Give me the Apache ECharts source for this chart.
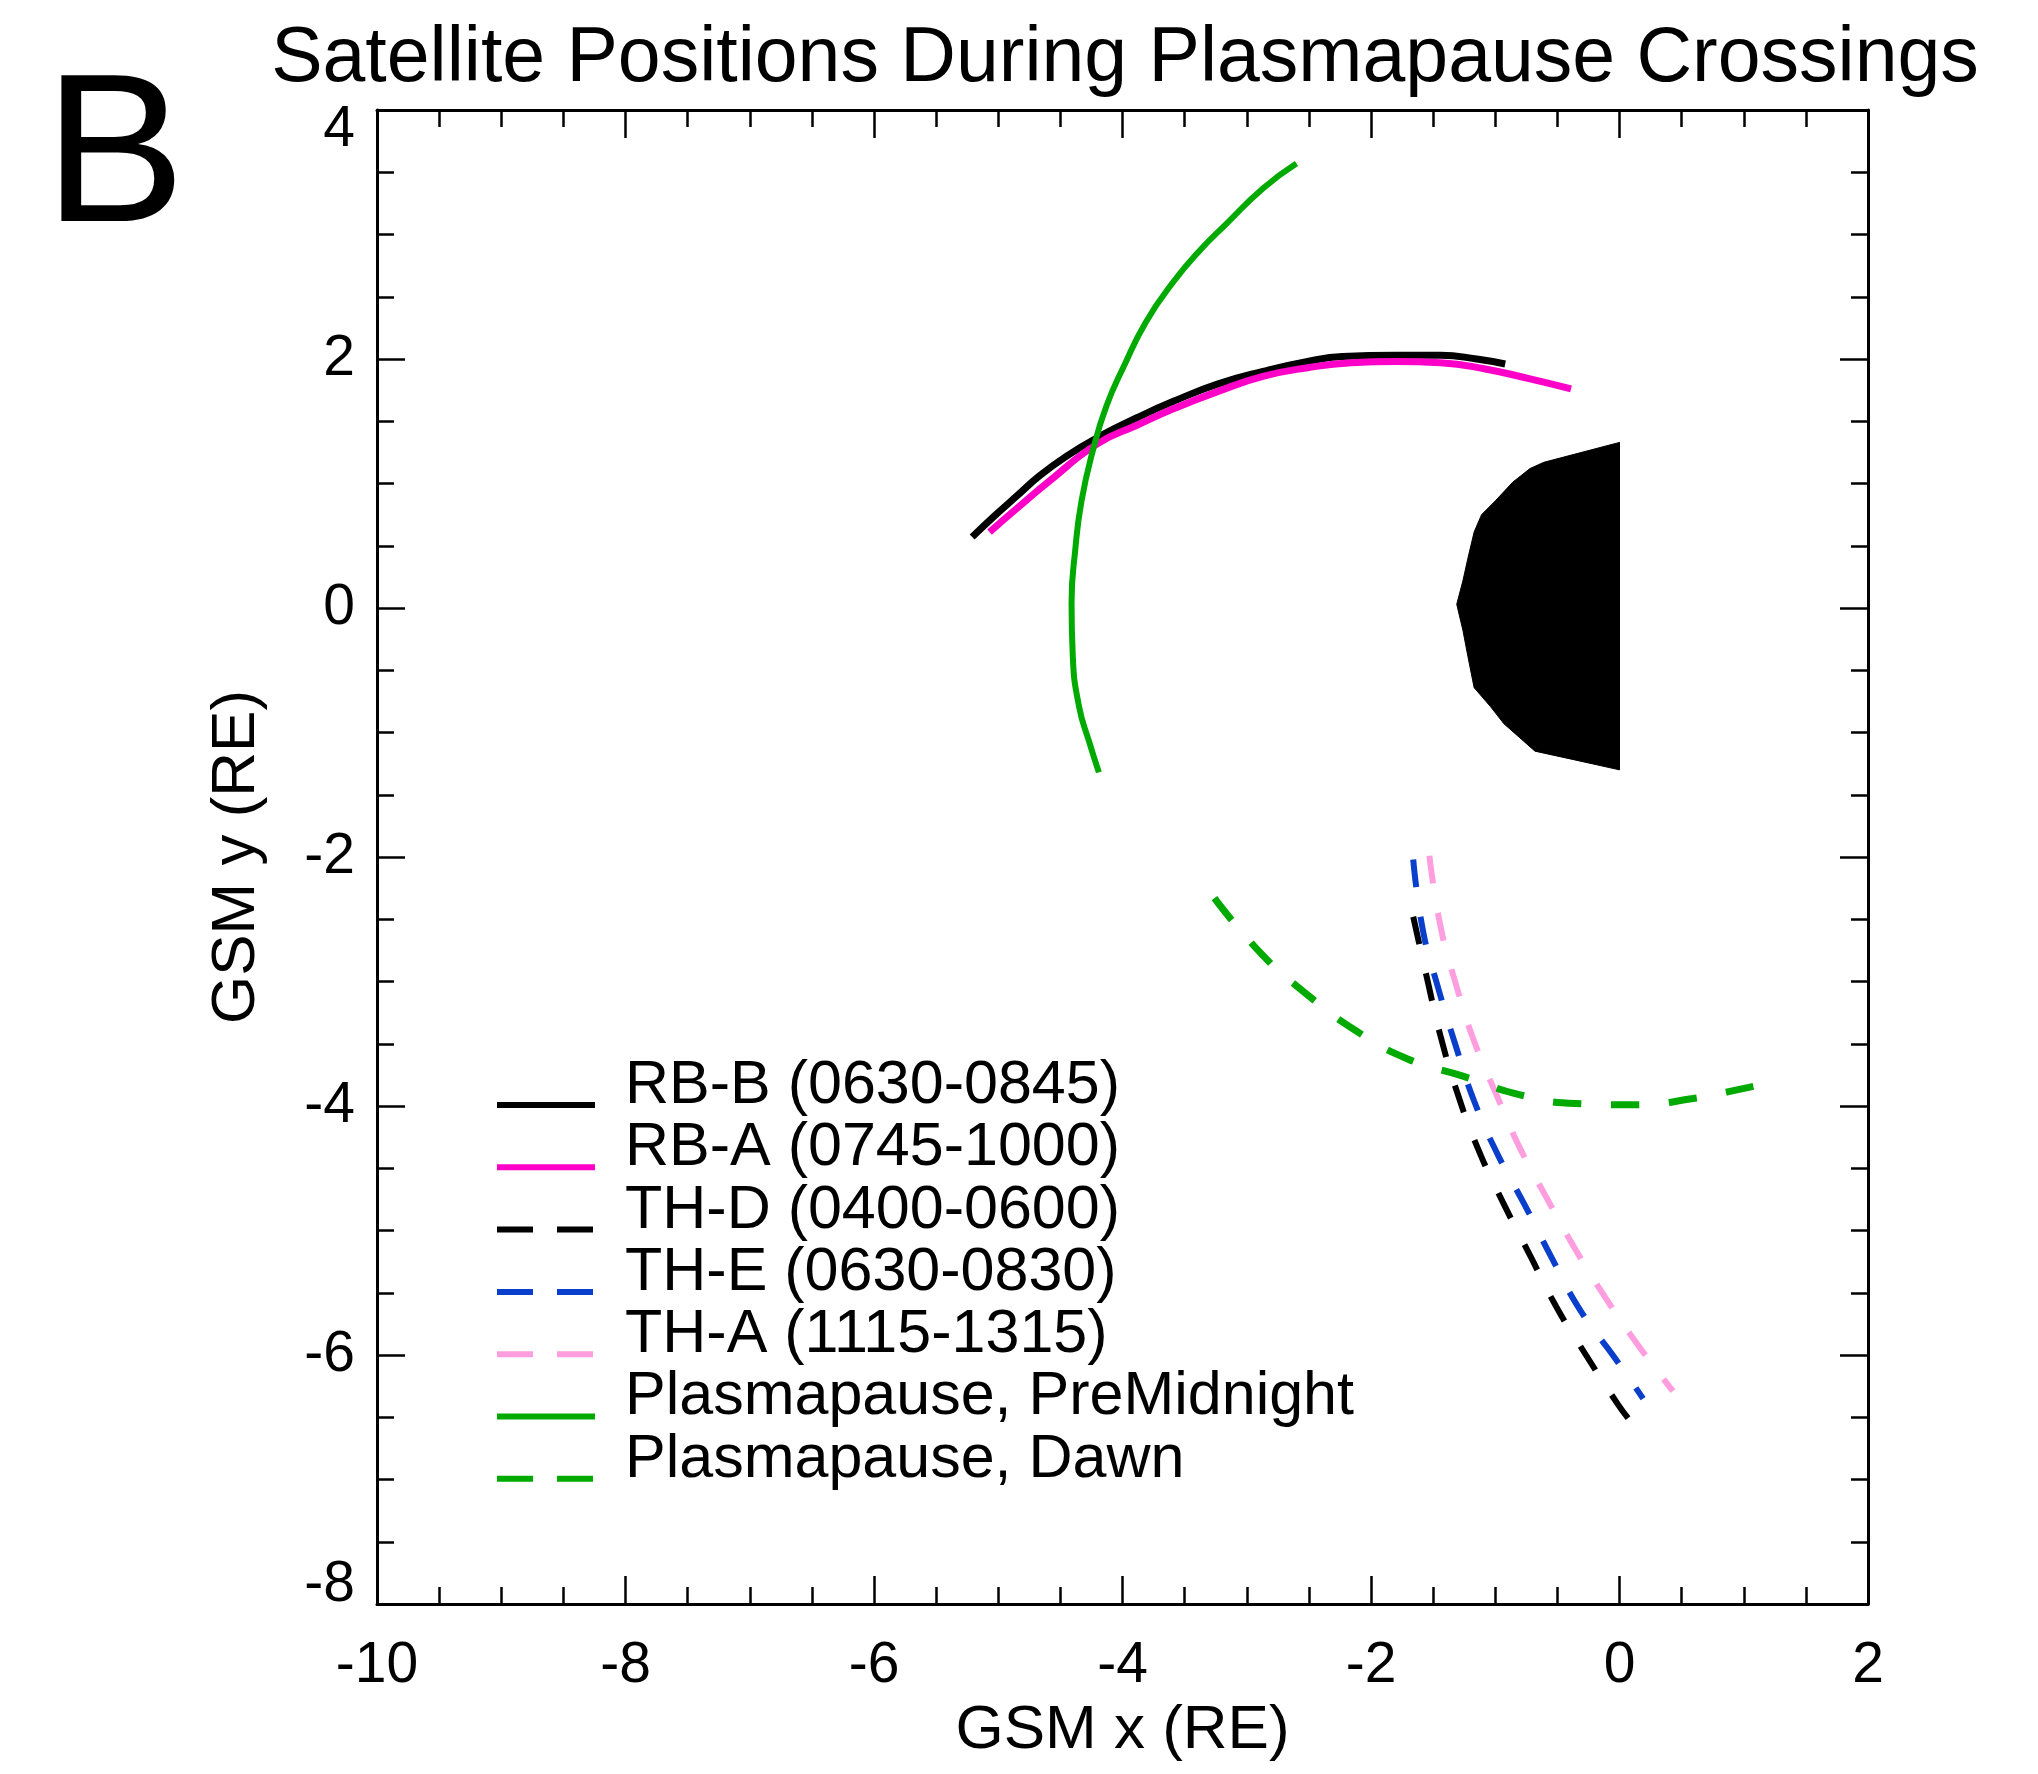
<!DOCTYPE html>
<html>
<head>
<meta charset="utf-8">
<title>Satellite Positions During Plasmapause Crossings</title>
<script src="https://cdn.jsdelivr.net/npm/echarts@6/dist/echarts.min.js"></script>
<style>
  html, body { margin: 0; padding: 0; background: #fff; }
  #chart { width: 2038px; height: 1774px; }
</style>
</head>
<body>
<div id="chart"></div>
<script>
// Axis ticks (GSM, Earth radii)
const xTickValues = [-10, -8, -6, -4, -2, 0, 2];
const yTickValues = [-8, -6, -4, -2, 0, 2, 4];

// Earth (dayside half shown as filled shape)
const earthX = [0.00, -0.61, -0.72, -0.86, -1.00, -1.11, -1.17, -1.22, -1.26, -1.31, -1.26, -1.22, -1.17, -1.04, -0.93, -0.68, -0.36, 0.00];
const earthY = [1.33, 1.17, 1.12, 1.01, 0.86, 0.75, 0.61, 0.40, 0.22, 0.03, -0.18, -0.39, -0.64, -0.79, -0.93, -1.15, -1.22, -1.30];

// RBSP-B orbit segment
const rbbX = [-5.21, -5.03, -4.85, -4.67, -4.45, -4.20, -3.88, -3.59, -3.23, -2.87, -2.51, -2.23, -1.80, -1.44, -1.15, -0.92];
const rbbY = [0.57, 0.74, 0.90, 1.06, 1.22, 1.37, 1.53, 1.66, 1.80, 1.90, 1.98, 2.02, 2.03, 2.03, 2.00, 1.96];

// RBSP-A orbit segment
const rbaX = [-5.07, -4.85, -4.60, -4.20, -3.88, -3.59, -3.23, -2.87, -2.51, -2.16, -1.80, -1.44, -1.08, -0.72, -0.39];
const rbaY = [0.61, 0.80, 1.01, 1.32, 1.47, 1.60, 1.74, 1.86, 1.93, 1.97, 1.98, 1.97, 1.92, 1.84, 1.76];

// THEMIS-D
const thdX = [-1.66, -1.55, -1.44, -1.30, -1.14, -0.94, -0.72, -0.51, -0.27, -0.01, 0.08];
const thdY = [-2.48, -2.97, -3.44, -3.91, -4.34, -4.77, -5.20, -5.61, -6.00, -6.40, -6.52];

// THEMIS-E
const theX = [-1.66, -1.58, -1.46, -1.32, -1.17, -0.98, -0.76, -0.54, -0.31, -0.04, 0.19];
const theY = [-2.02, -2.60, -3.05, -3.51, -3.96, -4.39, -4.80, -5.23, -5.65, -6.02, -6.35];

// THEMIS-A
const thaX = [-1.53, -1.44, -1.32, -1.17, -0.99, -0.80, -0.58, -0.35, -0.10, 0.17, 0.43];
const thaY = [-1.99, -2.56, -3.01, -3.48, -3.91, -4.34, -4.75, -5.16, -5.56, -5.95, -6.29];

// Plasmapause location, pre-midnight sector
const ppNightX = [-2.60, -2.87, -3.16, -3.38, -3.59, -3.81, -3.99, -4.13, -4.24, -4.33, -4.38, -4.41, -4.40, -4.35, -4.27, -4.19];
const ppNightY = [3.57, 3.37, 3.09, 2.87, 2.62, 2.30, 1.94, 1.62, 1.26, 0.86, 0.47, 0.04, -0.39, -0.79, -1.07, -1.32];

// Plasmapause location, dawn sector
const ppDawnX = [-3.26, -2.88, -2.52, -2.13, -1.71, -1.26, -0.80, -0.35, 0.12, 0.59, 1.04, 1.18];
const ppDawnY = [-2.33, -2.78, -3.10, -3.39, -3.62, -3.76, -3.91, -3.98, -3.99, -3.94, -3.85, -3.82];

const legendNames = [
  'RB-B (0630-0845)',
  'RB-A (0745-1000)',
  'TH-D (0400-0600)',
  'TH-E (0630-0830)',
  'TH-A (1115-1315)',
  'Plasmapause, PreMidnight',
  'Plasmapause, Dawn'
];

const zip = (xs, ys) => xs.map((x, i) => [x, ys[i]]);

const FONT = '"Liberation Sans", Arial, Helvetica, sans-serif';
const DASH = [28, 30];

const tracks = [
  { name: legendNames[0], data: zip(rbbX, rbbY), color: '#000000', dashed: false, width: 7 },
  { name: legendNames[1], data: zip(rbaX, rbaY), color: '#ff00c8', dashed: false, width: 7 },
  { name: legendNames[2], data: zip(thdX, thdY), color: '#000000', dashed: true, width: 6 },
  { name: legendNames[3], data: zip(theX, theY), color: '#0a3fcc', dashed: true, width: 6 },
  { name: legendNames[4], data: zip(thaX, thaY), color: '#ff9edf', dashed: true, width: 6 },
  { name: legendNames[5], data: zip(ppNightX, ppNightY), color: '#00aa00', dashed: false, width: 6 },
  { name: legendNames[6], data: zip(ppDawnX, ppDawnY), color: '#00aa00', dashed: true, width: 7 }
];

const xMin = xTickValues[0], xMax = xTickValues[xTickValues.length - 1];
const yMin = yTickValues[0], yMax = yTickValues[yTickValues.length - 1];
const xStep = xTickValues[1] - xTickValues[0];
const yStep = yTickValues[1] - yTickValues[0];

function axisBase(min, max, step, showLabels) {
  return {
    type: 'value',
    min: min, max: max, interval: step,
    axisLine: { show: true, onZero: false, lineStyle: { color: '#000', width: 3 } },
    axisTick: { show: true, inside: true, length: 28, lineStyle: { color: '#000', width: 2.5 } },
    minorTick: { show: true, splitNumber: 4, length: 17, lineStyle: { color: '#000', width: 2.5 } },
    splitLine: { show: false },
    minorSplitLine: { show: false },
    axisLabel: { show: showLabels, color: '#000', fontSize: 57, fontFamily: FONT }
  };
}

const xBottom = Object.assign(axisBase(xMin, xMax, xStep, true), {
  position: 'bottom',
  name: 'GSM x (RE)', nameLocation: 'middle', nameGap: 96,
  nameTextStyle: { color: '#000', fontSize: 62, fontFamily: FONT }
});
xBottom.axisLabel.margin = 34;
const xTop = Object.assign(axisBase(xMin, xMax, xStep, false), { position: 'top' });

const yLeft = Object.assign(axisBase(yMin, yMax, yStep, true), {
  position: 'left',
  name: 'GSM y (RE)', nameLocation: 'middle', nameGap: 109,
  nameTextStyle: { color: '#000', fontSize: 62, fontFamily: FONT }
});
yLeft.axisLabel.margin = 22;
// end labels sit just inside the frame
yLeft.axisLabel.formatter = function (v) {
  if (v === yMax) return '{top|' + v + '}';
  if (v === yMin) return '{bot|' + v + '}';
  return String(v);
};
yLeft.axisLabel.rich = {
  top: { fontSize: 57, fontFamily: FONT, color: '#000', padding: [40, 0, 0, 0] },
  bot: { fontSize: 57, fontFamily: FONT, color: '#000', padding: [0, 0, 38, 0] }
};
const yRight = Object.assign(axisBase(yMin, yMax, yStep, false), { position: 'right' });

const earthSeries = {
  type: 'custom',
  name: 'Earth',
  xAxisIndex: 0, yAxisIndex: 0,
  data: zip(earthX, earthY),
  silent: true,
  renderItem: function (params, api) {
    if (params.dataIndex !== 0) return;
    const pts = earthX.map((x, i) => api.coord([x, earthY[i]]));
    return {
      type: 'polygon',
      shape: { points: pts },
      style: { fill: '#000', stroke: '#000', lineWidth: 1 }
    };
  }
};

const lineSeries = tracks.map(t => ({
  type: 'line',
  name: t.name,
  xAxisIndex: 0, yAxisIndex: 0,
  data: t.data,
  showSymbol: false,
  smooth: 0.5,
  lineStyle: {
    color: t.color,
    width: t.width,
    type: t.dashed ? DASH : 'solid',
    cap: 'butt'
  }
}));

// Legend drawn as sample lines with labels in the lower-left of the frame
const LEG_X0 = 497, LEG_X1 = 595, LEG_TEXT_X = 625, LEG_Y0 = 1105, LEG_DY = 62.3, LEG_FONT = 61;
const legendGraphics = [];
tracks.forEach((t, i) => {
  const y = LEG_Y0 + i * LEG_DY;
  legendGraphics.push({
    type: 'line',
    shape: { x1: LEG_X0, y1: y, x2: LEG_X1, y2: y },
    style: { stroke: t.color, lineWidth: 6, lineDash: t.dashed ? [36, 24] : null, lineCap: 'butt' },
    z: 10
  });
  legendGraphics.push({
    type: 'text',
    x: LEG_TEXT_X, y: y - 0.31 * LEG_FONT,
    style: {
      text: t.name, fill: '#000', font: LEG_FONT + 'px ' + FONT,
      textAlign: 'left', textVerticalAlign: 'middle'
    },
    z: 10
  });
});

const chart = echarts.init(document.getElementById('chart'), null, { renderer: 'canvas' });
chart.setOption({
  backgroundColor: '#ffffff',
  animation: false,
  title: [
    {
      text: 'Satellite Positions During Plasmapause Crossings',
      left: 1120, top: 16, textAlign: 'center',
      textStyle: { color: '#000', fontSize: 77, fontWeight: 'normal', fontFamily: FONT }
    },
    {
      text: 'B',
      left: 39, top: 52,
      textStyle: { color: '#000', fontSize: 212, fontWeight: 'normal', fontFamily: FONT }
    }
  ],
  grid: { left: 377, top: 110, right: 170, bottom: 170, containLabel: false },
  xAxis: [xBottom, xTop],
  yAxis: [yLeft, yRight],
  series: [earthSeries].concat(lineSeries),
  graphic: legendGraphics
});
</script>
</body>
</html>
